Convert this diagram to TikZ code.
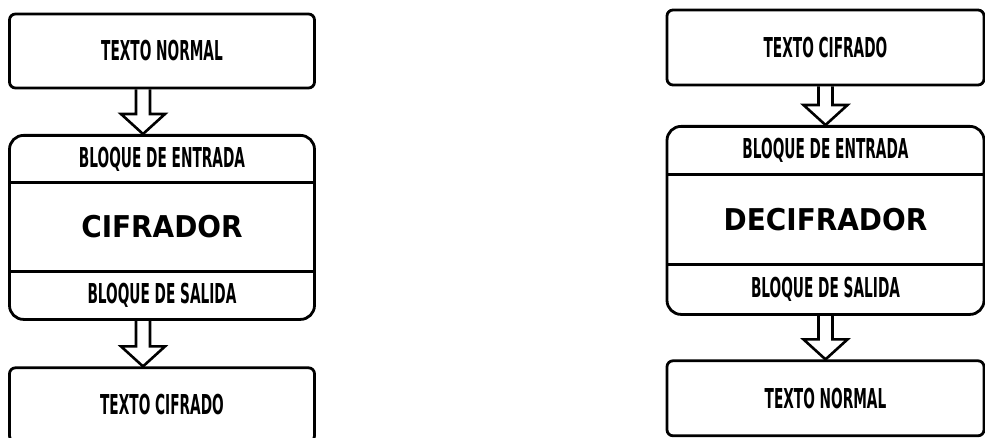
\documentclass[tikz,border=0pt]{standalone}
\usepackage{fontspec}
\setmainfont{DejaVu Sans}
\newfontfamily\dotfont[FakeStretch=0.5]{DejaVu Sans Bold}
\newfontfamily\bigfont[FakeStretch=0.93]{DejaVu Sans Bold}
\newcommand\rotulo{\dotfont\fontsize{13.7}{15}\selectfont}
\newcommand\titulo{\bigfont\fontsize{15}{18}\selectfont}
\usetikzlibrary{positioning,fit,calc}

\begin{document}
\begin{tikzpicture}[x=1pt,y=1pt,
    caja/.style={draw,line width=1.4pt,rounded corners=3pt,minimum height=37pt,font=\rotulo},
    seccion/.style={minimum height=#1,inner sep=0pt,outer sep=0pt,font=\rotulo},
    bloque/.style={draw,line width=1.4pt,rounded corners=7pt,inner sep=0pt},
    hueca/.style={line width=1.3pt,to path={let \p1=(\tikztostart),\p2=(\tikztotarget) in
      (\x1-3.5pt,\y1) -- (\x1-3.5pt,\y2+10pt) -- (\x1-11pt,\y2+10pt) -- (\x2,\y2)
      -- (\x1+11pt,\y2+10pt) -- (\x1+3.5pt,\y2+10pt) -- (\x1+3.5pt,\y1)}}]
  \path[use as bounding box,fill=white] (0,0) rectangle (492.5,-219);

  \node[caja,minimum width=152.5pt] (in1) at (81,-25.5) {TEXTO NORMAL};
  \node[seccion=23.5pt,minimum width=152.5pt,below=23pt of in1] (ent1) {BLOQUE DE ENTRADA};
  \node[seccion=44.5pt,minimum width=152.5pt,below=0pt of ent1,font=\titulo] (cif) {CIFRADOR};
  \node[seccion=24pt,minimum width=152.5pt,below=0pt of cif] (sal1) {BLOQUE DE SALIDA};
  \node[bloque,fit=(ent1)(sal1)] (blk1) {};
  \draw[line width=1.4pt] (ent1.south west) -- (ent1.south east) (sal1.north west) -- (sal1.north east);
  \node[caja,minimum width=152.5pt,below=23.5pt of sal1] (out1) {TEXTO CIFRADO};
  \draw[hueca] ([xshift=-9.5pt]in1.south) to ([xshift=-9.5pt]blk1.north);
  \draw[hueca] ([xshift=-9.5pt]blk1.south) to ([xshift=-9.5pt]out1.north);

  \node[caja,minimum width=158.5pt,minimum height=37.5pt] (in2) at (412.75,-23.75) {TEXTO CIFRADO};
  \node[seccion=24pt,minimum width=158.5pt,below=20pt of in2] (ent2) {BLOQUE DE ENTRADA};
  \node[seccion=45pt,minimum width=158.5pt,below=0pt of ent2,font=\titulo] (decif) {DECIFRADOR};
  \node[seccion=25pt,minimum width=158.5pt,below=0pt of decif] (sal2) {BLOQUE DE SALIDA};
  \node[bloque,fit=(ent2)(sal2)] (blk2) {};
  \draw[line width=1.4pt] (ent2.south west) -- (ent2.south east) (sal2.north west) -- (sal2.north east);
  \node[caja,minimum width=158.5pt,minimum height=37.5pt,below=22.5pt of sal2] (out2) {TEXTO NORMAL};
  \draw[hueca] (in2.south) to (blk2.north);
  \draw[hueca] (blk2.south) to (out2.north);
\end{tikzpicture}
\end{document}
